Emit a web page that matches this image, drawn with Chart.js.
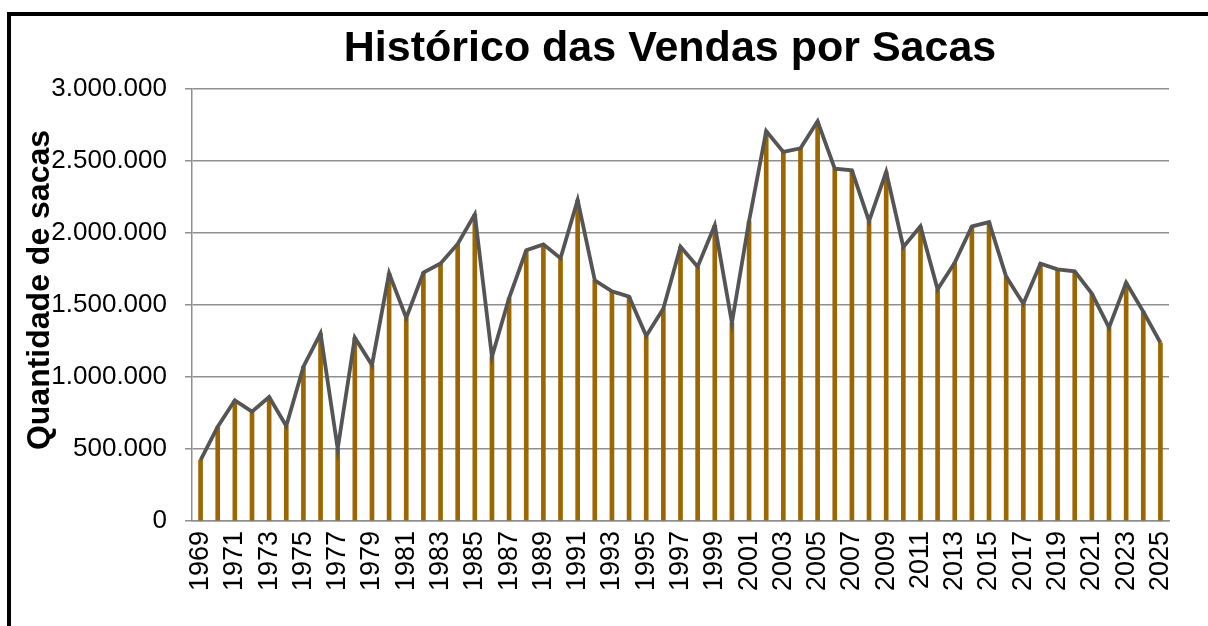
<!DOCTYPE html>
<html>
<head>
<meta charset="utf-8">
<script src="https://cdn.jsdelivr.net/npm/chart.js@4.4.1/dist/chart.umd.min.js"></script>
<style>
  html, body { margin: 0; padding: 0; background: #fff; overflow: hidden; }
  #wrap { position: relative; width: 1208px; height: 626px; overflow: hidden; }
  #frame { position: absolute; left: 7px; top: 12px; width: 1400px; height: 800px;
           border-left: 4px solid #000; border-top: 4px solid #000; }
  #c { position: absolute; left: 0; top: 0; }
</style>
</head>
<body>
<div id="wrap">
  <div id="frame"></div>
  <canvas id="c" width="1208" height="626"></canvas>
</div>
<script>
const chartTitle = "Histórico das Vendas por Sacas";
const yAxisTitle = "Quantidade de sacas";

const years = [
  "1969","1970","1971","1972","1973","1974","1975","1976","1977","1978",
  "1979","1980","1981","1982","1983","1984","1985","1986","1987","1988",
  "1989","1990","1991","1992","1993","1994","1995","1996","1997","1998",
  "1999","2000","2001","2002","2003","2004","2005","2006","2007","2008",
  "2009","2010","2011","2012","2013","2014","2015","2016","2017","2018",
  "2019","2020","2021","2022","2023","2024","2025"
];

const sacas = [
  423000, 655000, 838000, 759000, 861000, 660000, 1072000, 1303000, 502000, 1273000,
  1083000, 1720000, 1410000, 1725000, 1789000, 1924000, 2130000, 1141000, 1548000, 1880000,
  1921000, 1824000, 2229000, 1671000, 1595000, 1558000, 1285000, 1475000, 1905000, 1766000,
  2053000, 1377000, 2083000, 2708000, 2563000, 2588000, 2776000, 2447000, 2435000, 2083000,
  2424000, 1903000, 2046000, 1609000, 1794000, 2046000, 2076000, 1697000, 1509000, 1787000,
  1748000, 1734000, 1579000, 1343000, 1655000, 1454000, 1238000
];

const yTicks = [0, 500000, 1000000, 1500000, 2000000, 2500000, 3000000];

const FONT = '"Liberation Sans", Arial, sans-serif';

function fmt(v) {
  return String(v).replace(/\B(?=(\d{3})+(?!\d))/g, '.');
}

const textPlugin = {
  id: 'textPlugin',
  afterDraw(chart) {
    const ctx = chart.ctx;
    ctx.save();
    ctx.fillStyle = '#000';
    ctx.font = 'bold 43px ' + FONT;
    ctx.textAlign = 'center';
    ctx.textBaseline = 'alphabetic';
    ctx.fillText(chartTitle, 670, 61);
    ctx.translate(49, 290);
    ctx.rotate(-Math.PI / 2);
    ctx.font = 'bold 32px ' + FONT;
    ctx.fillText(yAxisTitle, 0, 0);
    ctx.restore();
  }
};

new Chart(document.getElementById('c'), {
  type: 'bar',
  data: {
    labels: years,
    datasets: [
      {
        type: 'line',
        data: sacas,
        borderColor: '#555555',
        borderWidth: 3.8,
        pointRadius: 0,
        tension: 0,
        order: 0
      },
      {
        type: 'bar',
        data: sacas,
        backgroundColor: '#9c6600',
        barThickness: 4,
        order: 1
      }
    ]
  },
  options: {
    responsive: false,
    animation: false,
    devicePixelRatio: 1,
    layout: { padding: { left: 0, right: 39, top: 89, bottom: 0 } },
    plugins: {
      legend: { display: false },
      title: { display: false },
      tooltip: { enabled: false }
    },
    scales: {
      x: {
        offset: true,
        grid: { display: false, drawTicks: false },
        border: { display: true, color: '#8f8f8f', width: 1.5 },
        ticks: {
          autoSkip: false,
          minRotation: 90,
          maxRotation: 90,
          padding: 10,
          color: '#000',
          font: { family: FONT, size: 27 },
          callback: function (v, i) { return i % 2 === 0 ? years[i] : ''; }
        },
        afterFit(scale) { scale.height = 105; }
      },
      y: {
        min: 0,
        max: 3000000,
        afterBuildTicks(scale) { scale.ticks = yTicks.map(v => ({ value: v })); },
        grid: { color: '#8f8f8f', lineWidth: 1.5, tickLength: 7, drawTicks: true },
        border: { display: true, color: '#8f8f8f', width: 1.5 },
        ticks: {
          padding: 18,
          color: '#000',
          font: { family: FONT, size: 26 },
          callback: function (v) { return fmt(v); }
        },
        afterFit(scale) { scale.width = 192; }
      }
    }
  },
  plugins: [textPlugin]
});
</script>
</body>
</html>
